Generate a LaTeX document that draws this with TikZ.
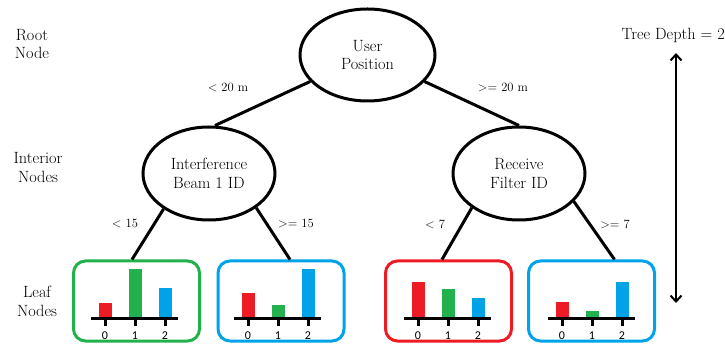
\documentclass[tikz,border=0pt]{standalone}
\usepackage{fontspec}
\newfontfamily\digitfont{Carlito}
\usetikzlibrary{calc,shapes.geometric,arrows.meta}
\definecolor{pred}{HTML}{ED1C24}
\definecolor{pgreen}{HTML}{22B14C}
\definecolor{pblue}{HTML}{00A2E8}
\newcommand{\leafchart}[5]{%
  \path ($(#1)+(#2,0)$) coordinate (#1c);
  \fill[pred]   ($(#1c)+(-36.5,18)$) rectangle ($(#1c)+(-23.5,18-#3)$);
  \fill[pgreen] ($(#1c)+(-6.5,18)$)  rectangle ($(#1c)+(6.5,18-#4)$);
  \fill[pblue]  ($(#1c)+(23.5,18)$)  rectangle ($(#1c)+(36.5,18-#5)$);
  \draw[axisline] ($(#1c)+(-44,18)$) -- ($(#1c)+(43,18)$);
  \foreach \k/\lab in {-30/0,0/1,30/2}{
    \draw[axisline] ($(#1c)+(\k,18)$) -- ($(#1c)+(\k,25)$);
    \node[ticklab] at ($(#1c)+(\k,35)$) {\lab};
  }
}
\tikzset{
  treenode/.style={ellipse, draw=black, line width=3pt, inner sep=0pt, align=center,
    font=\fontsize{16.3}{18.5}\selectfont},
  leafbox/.style={rectangle, rounded corners=12pt, line width=3pt, minimum width=126pt,
    minimum height=80pt, inner sep=0pt},
  edge/.style={line width=3pt, black},
  edgelab/.style={font=\fontsize{12.6}{14}\selectfont, inner sep=0pt},
  sidelab/.style={font=\fontsize{16.3}{18.5}\selectfont, align=center, inner sep=0pt},
  axisline/.style={line width=3pt, black},
  ticklab/.style={font=\digitfont\fontsize{12}{13}\selectfont, inner sep=0pt},
}
\begin{document}
\begin{tikzpicture}[x=1pt,y=-1pt]
\useasboundingbox (0,0) rectangle (725,344);
% tree nodes
\node[treenode, minimum width=135pt, minimum height=92pt] (root) at (367.5,55) {User\\Position};
\node[treenode, minimum width=132pt, minimum height=93pt] (li) at (209,173.5) {Interference\\Beam 1 ID};
\node[treenode, minimum width=132pt, minimum height=93pt] (ri) at (519,173.5) {Receive\\Filter ID};
% leaves
\node[leafbox, draw=pgreen] (lf1) at (136.5,301) {};
\node[leafbox, draw=pblue]  (lf2) at (281,301) {};
\node[leafbox, draw=pred]   (lf3) at (448.5,301) {};
\node[leafbox, draw=pblue]  (lf4) at (591.5,301) {};
% edges
\draw[edge] (root) -- ($(li.north)+(6,0)$);
\draw[edge] (root) -- (ri.north);
\draw[edge] (li.218) -- ($(lf1.north)+(-4.5,0)$);
\draw[edge] (li.324) -- ($(lf2.north)+(9,0)$);
\draw[edge] (ri.216) -- ($(lf3.north)+(-6.5,0)$);
\draw[edge] (ri.333) -- ($(lf4.north)+(23,0)$);
% edge labels
\node[edgelab] (e1) at (228,87) {< 20 m};
\node[edgelab] (e2) at (503,87) {>= 20 m};
\node[edgelab] (e3) at (125,223) {< 15};
\node[edgelab] (e4) at (296,223) {>= 15};
\node[edgelab] (e5) at (435,224) {< 7};
\node[edgelab] (e6) at (615,224) {>= 7};
% charts
\leafchart{lf1}{-1.5}{16}{50}{31}
\leafchart{lf2}{-3}{26}{14}{50}
\leafchart{lf3}{-0.5}{37}{30}{21}
\leafchart{lf4}{0.5}{17}{8}{37}
% side labels
\node[sidelab] (s1) at (32,44) {Root\\Node};
\node[sidelab] (s2) at (38,167.5) {Interior\\Nodes};
\node[sidelab] (s3) at (37,301.5) {Leaf\\Nodes};
\node[sidelab, anchor=east] (td) at (725,35) {Tree Depth = 2};
\coordinate (atop) at (676,53);
\coordinate (abot) at (676,303);
\draw[line width=2pt, {Straight Barb[length=6pt,width=11pt]}-{Straight Barb[length=6pt,width=11pt]}] (atop) -- (abot);
\end{tikzpicture}
\end{document}
